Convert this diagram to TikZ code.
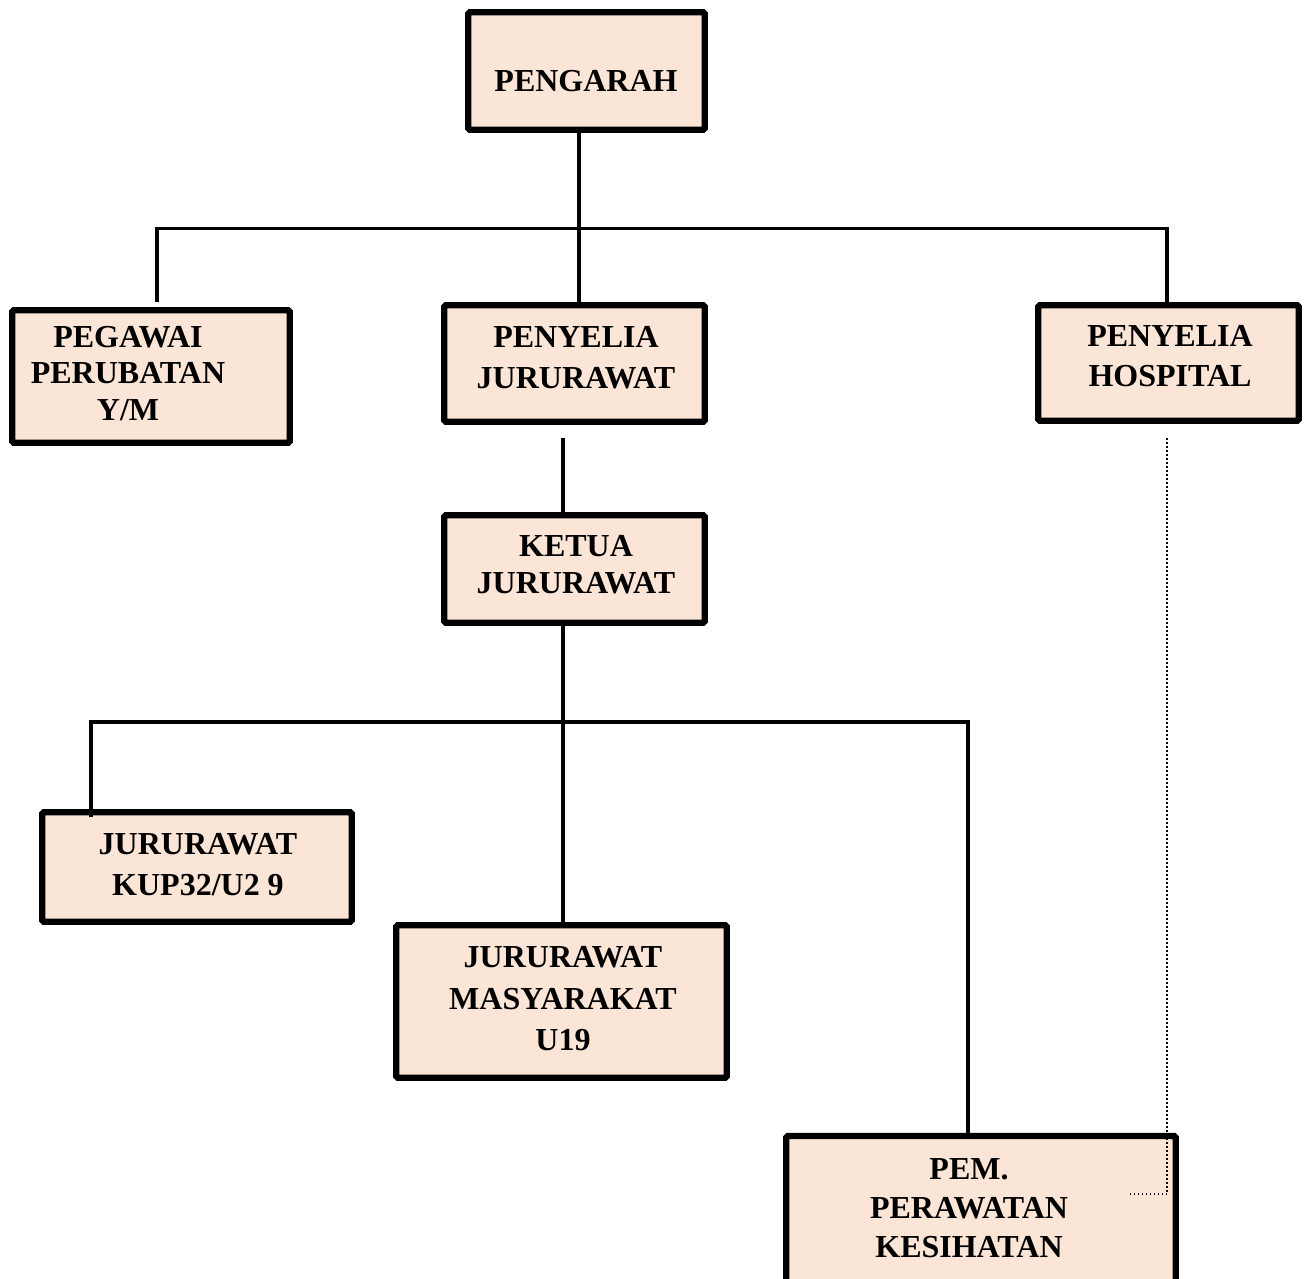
\documentclass[tikz,border=0pt]{standalone}
\usepackage{fontspec}
\setmainfont{Liberation Serif}
\definecolor{boxfill}{HTML}{FBE5D6}
\begin{document}
\begin{tikzpicture}[x=1pt,y=-1pt,
  box/.style={draw=black, fill=boxfill, line width=6.2pt, rounded corners=1.5pt, inner sep=0pt},
  lbl/.style={align=center, inner sep=0pt, font=\bfseries\fontsize{32}{41}\selectfont},
  conn/.style={line width=3.8pt, line join=miter},
  dotline/.style={line width=1.5pt, dash pattern=on 1.5pt off 2.5pt}]
\useasboundingbox (0,0) rectangle (1306,1279);
\clip (0,0) rectangle (1306,1279);

% boxes
\node[box, minimum width=236.5pt, minimum height=117.5pt] (dir) at (586.5,71) {};
\node[box, minimum width=277.5pt, minimum height=132.5pt] (peg) at (151,376.5) {};
\node[box, minimum width=260.5pt, minimum height=116.5pt] (pj) at (574.5,363.5) {};
\node[box, minimum width=260.5pt, minimum height=115.5pt] (ph) at (1168.5,363) {};
\node[box, minimum width=260.5pt, minimum height=107.5pt] (kj) at (574.5,569) {};
\node[box, minimum width=309.5pt, minimum height=109.5pt] (kup) at (197,867) {};
\node[box, minimum width=330.5pt, minimum height=152.5pt] (mas) at (561.5,1001.5) {};
\node[box, minimum width=389.5pt, minimum height=190pt] (pem) at (981,1231) {};

% labels
\node[lbl] (dirt) at (586,81) {PENGARAH};
\node[lbl, font=\bfseries\fontsize{32}{36.5}\selectfont] (pegt) at (128,373.5) {PEGAWAI\\PERUBATAN\\Y/M};
\node[lbl] (pjt) at (576,357.5) {PENYELIA\\JURURAWAT};
\node[lbl, font=\bfseries\fontsize{32}{40}\selectfont] (pht) at (1170,356) {PENYELIA\\HOSPITAL};
\node[lbl, font=\bfseries\fontsize{32}{37}\selectfont] (kjt) at (576,564.5) {KETUA\\JURURAWAT};
\node[lbl] (kupt) at (198,864.5) {JURURAWAT\\KUP32/U2 9};
\node[lbl, font=\bfseries\fontsize{32}{41.5}\selectfont] (mast) at (563,999) {JURURAWAT\\MASYARAKAT\\U19};
\node[lbl, font=\bfseries\fontsize{32}{39}\selectfont] (pemt) at (969,1208) {PEM.\\PERAWATAN\\KESIHATAN};

% junction coordinates
\coordinate (h1l) at (157,228.5);
\coordinate (h1r) at (1167,228.5);
\coordinate (pegtop) at (157,302);
\coordinate (phtop) at (1167,302);
\coordinate (pjgap) at (563,438);
\coordinate (h2l) at (91,722);
\coordinate (h2r) at (968,722);
\coordinate (kupin) at (91,817);
\coordinate (dotstart) at (1167,438);
\coordinate (dotcorner) at (1167,1194);
\coordinate (dotend) at (1130,1194);

% connectors
\draw[conn] (dir.south -| 579,0) -- (pj.north -| 579,0);
\draw[conn] (pegtop) -- (h1l) -- (h1r) -- (phtop);
\draw[conn] (pjgap) -- (kj.north -| pjgap);
\draw[conn] (kj.south -| pjgap) -- (mas.north -| pjgap);
\draw[conn] (kupin) -- (h2l) -- (h2r) -- (pem.north -| h2r);
\draw[dotline] (dotstart) -- (dotcorner) -- (dotend);
\end{tikzpicture}
\end{document}
